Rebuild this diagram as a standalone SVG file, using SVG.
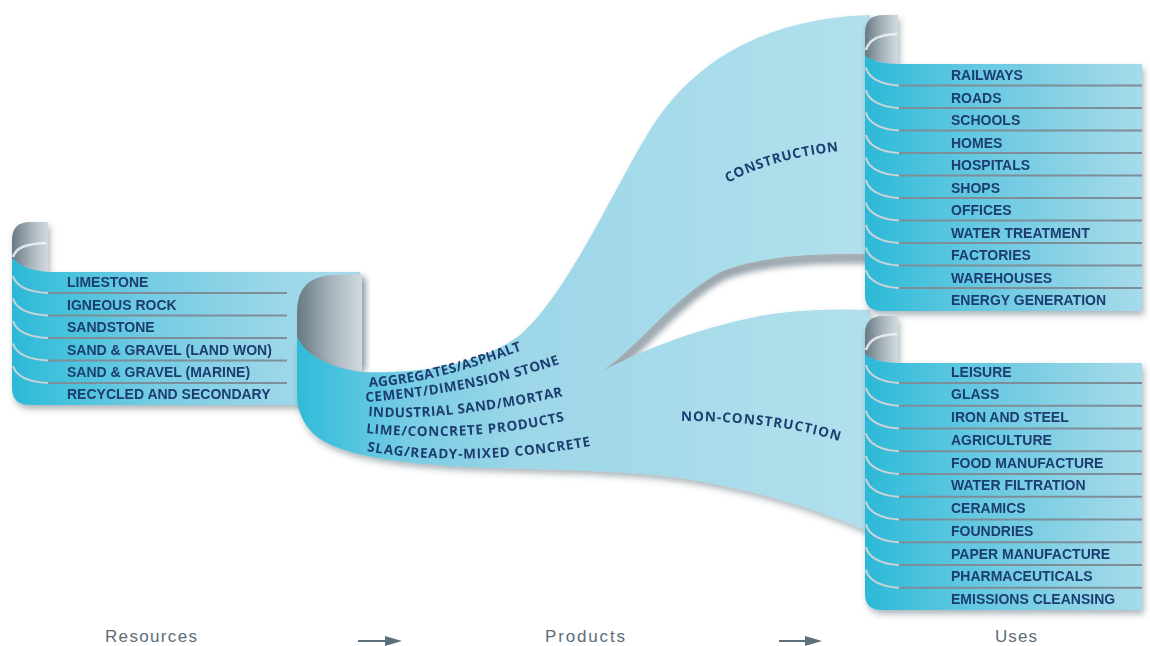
<svg xmlns="http://www.w3.org/2000/svg" width="1150" height="646" viewBox="0 0 1150 646">
<style>
.lbl{font-family:"Liberation Sans",Arial,sans-serif;font-weight:bold;font-size:14px;fill:#1c3d70}
.crv{font-family:"Open Sans","Liberation Sans",sans-serif;font-weight:700;font-size:13.5px;fill:#1c3d70}
.sep{stroke:#7e8e98;stroke-width:2;fill:none}
.sepc{stroke:#c9d3d8;stroke-width:2;fill:none}
.hl{stroke:#eef3f5;stroke-width:2.5;fill:none;opacity:.85}
.axis{font-family:"Liberation Sans",Arial,sans-serif;font-size:17px;fill:#5b6c79}
.arr{stroke:#5b6f7c;stroke-width:2;fill:none;marker-end:url(#arrow)}
</style>
<defs>
<linearGradient id="gCurl" x1="0" y1="0" x2="1" y2="0">
<stop offset="0" stop-color="#677984"/><stop offset="0.55" stop-color="#a9b6be"/><stop offset="1" stop-color="#d3dadf"/>
</linearGradient>
<linearGradient id="gLeft" gradientUnits="userSpaceOnUse" x1="12" y1="0" x2="360" y2="0">
<stop offset="0" stop-color="#2cb8d7"/><stop offset="0.1" stop-color="#3dbfdb"/><stop offset="0.4" stop-color="#74cce3"/><stop offset="0.75" stop-color="#9ad6e8"/><stop offset="1" stop-color="#a8dbea"/>
</linearGradient>
<linearGradient id="gRight" gradientUnits="userSpaceOnUse" x1="865" y1="0" x2="1142" y2="0">
<stop offset="0" stop-color="#2cb8d7"/><stop offset="0.12" stop-color="#3dbfdb"/><stop offset="0.35" stop-color="#5fc7e0"/><stop offset="0.7" stop-color="#86d1e5"/><stop offset="1" stop-color="#a6dbea"/>
</linearGradient>
<linearGradient id="gSheet" gradientUnits="userSpaceOnUse" x1="297" y1="0" x2="870" y2="0">
<stop offset="0" stop-color="#2fbad9"/><stop offset="0.06" stop-color="#45c1dd"/><stop offset="0.2" stop-color="#79cde4"/><stop offset="0.4" stop-color="#9dd7e8"/><stop offset="1" stop-color="#b2e0ed"/>
</linearGradient>
<filter id="shadow" x="-10%" y="-10%" width="130%" height="130%">
<feDropShadow dx="2" dy="4" stdDeviation="3" flood-color="#4c5d68" flood-opacity="0.45"/>
</filter>
<filter id="blur" x="-50%" y="-50%" width="200%" height="200%"><feGaussianBlur stdDeviation="3"/></filter>
<marker id="arrow" viewBox="0 0 17 10" refX="10" refY="5" markerWidth="17" markerHeight="10" markerUnits="userSpaceOnUse" orient="auto">
<path d="M0,0 L17,5 L0,10 Z" fill="#5b6f7c"/>
</marker>
<path id="t1" d="M369,387 C410,385 460,374 530,347"/>
<path id="t2" d="M366,402 C420,398 490,388 565,362"/>
<path id="t3" d="M368,416 C420,420 480,414 568,395"/>
<path id="t4" d="M366,433 C420,438 490,439 568,420"/>
<path id="t5" d="M367,451 C420,461 500,463 595,445"/>
<path id="tc" d="M728,183 C760,165 800,155 848,150"/>
<path id="tn" d="M681,421 C730,421 790,425 842,442"/>
</defs>

<g id="resources" filter="url(#shadow)">
<path d="M12,240 Q12,222 30,222 L48,222 L48,274 L12,262 Z" fill="url(#gCurl)"/>
<path class="hl" d="M13,257 C16,248 24,244 46,243"/>
<path d="M12,258 C20,266 32,271 50,272 L360,272 L360,405 L30,405 Q12,405 12,388 Z" fill="url(#gLeft)"/>
<path class="sepc" d="M13,276 C16,286 28,292 48,293"/><path class="sep" d="M48,293 L287,293"/>
<path class="sepc" d="M13,298.5 C16,308.5 28,314.5 48,315.5"/><path class="sep" d="M48,315.5 L287,315.5"/>
<path class="sepc" d="M13,321 C16,331 28,337 48,338"/><path class="sep" d="M48,338 L287,338"/>
<path class="sepc" d="M13,343.5 C16,353.5 28,359.5 48,360.5"/><path class="sep" d="M48,360.5 L287,360.5"/>
<path class="sepc" d="M13,366 C16,376 28,382 48,383"/><path class="sep" d="M48,383 L287,383"/>
<text class="lbl" x="67" y="287">LIMESTONE</text>
<text class="lbl" x="67" y="309.5">IGNEOUS ROCK</text>
<text class="lbl" x="67" y="332">SANDSTONE</text>
<text class="lbl" x="67" y="354.5">SAND &amp; GRAVEL (LAND WON)</text>
<text class="lbl" x="67" y="377">SAND &amp; GRAVEL (MARINE)</text>
<text class="lbl" x="67" y="399">RECYCLED AND SECONDARY</text>
</g>

<g id="products">
<rect x="357" y="278" width="9" height="92" fill="#55666f" opacity=".55" filter="url(#blur)"/>
<path d="M297,312 Q297,276 334,275 L362,274 L362,373 C330,369 305,355 297,337 Z" fill="url(#gCurl)"/>
<path d="M605,375 C645,349 675,304 722,277 C760,261 820,259 870,260" stroke="#6a7d89" stroke-width="7" fill="none" opacity=".7" filter="url(#blur)"/>
<path id="sheet" filter="url(#shadow)" fill="url(#gSheet)" d="M297,337 C305,355 330,368 362,372 C420,374 480,365 520,335 C570,290 610,195 650,130 C700,50 780,18 870,15 L870,254 C820,253 760,255 720,272 C670,300 640,345 602,371 C640,352 690,330 760,316 C800,309 840,309 870,310 L870,532 C830,515 770,492 680,478 C620,470 540,470 470,467 C400,464 330,455 310,430 C300,418 297,405 297,395 Z"/>
<text class="crv"><textPath href="#t1" textLength="158">AGGREGATES/ASPHALT</textPath></text>
<text class="crv"><textPath href="#t2" textLength="198">CEMENT/DIMENSION STONE</textPath></text>
<text class="crv"><textPath href="#t3" textLength="197">INDUSTRIAL SAND/MORTAR</textPath></text>
<text class="crv"><textPath href="#t4" textLength="200">LIME/CONCRETE PRODUCTS</textPath></text>
<text class="crv"><textPath href="#t5" textLength="225">SLAG/READY-MIXED CONCRETE</textPath></text>
</g>

<g id="construction-label">
<text class="crv"><textPath href="#tc" textLength="116">CONSTRUCTION</textPath></text>
</g>
<g id="non-construction-label">
<text class="crv"><textPath href="#tn" textLength="160">NON-CONSTRUCTION</textPath></text>
</g>

<g id="construction-uses" filter="url(#shadow)">
<path d="M865,33 Q865,15 883,15 L898,15 L898,66 L865,58 Z" fill="url(#gCurl)"/>
<path class="hl" d="M866,50 C869,40 877,35 897,34"/>
<path d="M865,56 C872,61 884,64 900,64 L1142,64 L1142,311 L882,311 Q865,311 865,295 Z" fill="url(#gRight)"/>
<path class="sepc" d="M866,67.5 C868,77.5 880,84.5 899,85.5"/><path class="sep" d="M899,85.5 L1142,85.5"/>
<path class="sepc" d="M866,90 C868,100 880,107 899,108"/><path class="sep" d="M899,108 L1142,108"/>
<path class="sepc" d="M866,112.5 C868,122.5 880,129.5 899,130.5"/><path class="sep" d="M899,130.5 L1142,130.5"/>
<path class="sepc" d="M866,135 C868,145 880,152 899,153"/><path class="sep" d="M899,153 L1142,153"/>
<path class="sepc" d="M866,157.5 C868,167.5 880,174.5 899,175.5"/><path class="sep" d="M899,175.5 L1142,175.5"/>
<path class="sepc" d="M866,180 C868,190 880,197 899,198"/><path class="sep" d="M899,198 L1142,198"/>
<path class="sepc" d="M866,202.5 C868,212.5 880,219.5 899,220.5"/><path class="sep" d="M899,220.5 L1142,220.5"/>
<path class="sepc" d="M866,225 C868,235 880,242 899,243"/><path class="sep" d="M899,243 L1142,243"/>
<path class="sepc" d="M866,247.5 C868,257.5 880,264.5 899,265.5"/><path class="sep" d="M899,265.5 L1142,265.5"/>
<path class="sepc" d="M866,270 C868,280 880,287 899,288"/><path class="sep" d="M899,288 L1142,288"/>
<text class="lbl" x="951" y="80">RAILWAYS</text>
<text class="lbl" x="951" y="102.5">ROADS</text>
<text class="lbl" x="951" y="125">SCHOOLS</text>
<text class="lbl" x="951" y="147.5">HOMES</text>
<text class="lbl" x="951" y="170">HOSPITALS</text>
<text class="lbl" x="951" y="192.5">SHOPS</text>
<text class="lbl" x="951" y="215">OFFICES</text>
<text class="lbl" x="951" y="237.5">WATER TREATMENT</text>
<text class="lbl" x="951" y="260">FACTORIES</text>
<text class="lbl" x="951" y="282.5">WAREHOUSES</text>
<text class="lbl" x="951" y="305">ENERGY GENERATION</text>
</g>

<g id="non-construction-uses" filter="url(#shadow)">
<path d="M865,334 Q865,316 883,316 L898,316 L898,365 L865,357 Z" fill="url(#gCurl)"/>
<path class="hl" d="M866,350 C869,340 877,335 897,334"/>
<path d="M865,354 C872,360 884,363 900,363 L1142,363 L1142,610 L882,610 Q865,610 865,594 Z" fill="url(#gRight)"/>
<path class="sepc" d="M866,365 C868,375 880,382 899,383"/><path class="sep" d="M899,383 L1142,383"/>
<path class="sepc" d="M866,387.75 C868,397.75 880,404.75 899,405.75"/><path class="sep" d="M899,405.75 L1142,405.75"/>
<path class="sepc" d="M866,410.5 C868,420.5 880,427.5 899,428.5"/><path class="sep" d="M899,428.5 L1142,428.5"/>
<path class="sepc" d="M866,433.25 C868,443.25 880,450.25 899,451.25"/><path class="sep" d="M899,451.25 L1142,451.25"/>
<path class="sepc" d="M866,456 C868,466 880,473 899,474"/><path class="sep" d="M899,474 L1142,474"/>
<path class="sepc" d="M866,478.75 C868,488.75 880,495.75 899,496.75"/><path class="sep" d="M899,496.75 L1142,496.75"/>
<path class="sepc" d="M866,501.5 C868,511.5 880,518.5 899,519.5"/><path class="sep" d="M899,519.5 L1142,519.5"/>
<path class="sepc" d="M866,524.25 C868,534.25 880,541.25 899,542.25"/><path class="sep" d="M899,542.25 L1142,542.25"/>
<path class="sepc" d="M866,547 C868,557 880,564 899,565"/><path class="sep" d="M899,565 L1142,565"/>
<path class="sepc" d="M866,569.75 C868,579.75 880,586.75 899,587.75"/><path class="sep" d="M899,587.75 L1142,587.75"/>
<text class="lbl" x="951" y="376.5">LEISURE</text>
<text class="lbl" x="951" y="399.25">GLASS</text>
<text class="lbl" x="951" y="422">IRON AND STEEL</text>
<text class="lbl" x="951" y="444.75">AGRICULTURE</text>
<text class="lbl" x="951" y="467.5">FOOD MANUFACTURE</text>
<text class="lbl" x="951" y="490.25">WATER FILTRATION</text>
<text class="lbl" x="951" y="513">CERAMICS</text>
<text class="lbl" x="951" y="535.75">FOUNDRIES</text>
<text class="lbl" x="951" y="558.5">PAPER MANUFACTURE</text>
<text class="lbl" x="951" y="581.25">PHARMACEUTICALS</text>
<text class="lbl" x="951" y="604">EMISSIONS CLEANSING</text>
</g>

<g id="stage-labels">
<text class="axis" x="105" y="642" textLength="92">Resources</text>
<text class="axis" x="545" y="642" textLength="80">Products</text>
<text class="axis" x="995" y="642" textLength="42">Uses</text>
</g>

<g id="connectors">
<line class="arr" x1="358" y1="641" x2="395" y2="641"/>
<line class="arr" x1="779" y1="641" x2="815" y2="641"/>
</g>
</svg>
